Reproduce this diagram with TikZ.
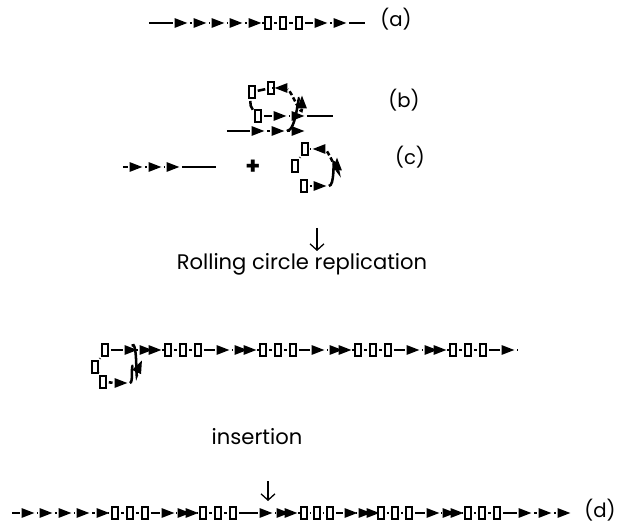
\documentclass[tikz,border=0pt]{standalone}
\usepackage{fontspec}
\setmainfont{Poppins}
\usetikzlibrary{arrows.meta, positioning, shapes.geometric}

\tikzset{
  rep/.style={isosceles triangle, isosceles triangle stretches, fill=black, inner sep=0pt,
    minimum width=7pt, minimum height=9pt, rotate=#1},
  rep/.default=0,
  gene/.style={draw, fill=white, line width=1.2pt, inner sep=0pt, minimum width=4.4pt, minimum height=9pt},
  link/.style={line width=1.8pt, shorten <=1.3pt, shorten >=1.3pt},
  loopseg/.style={line width=1.8pt, dash pattern=on 3.2pt off 1.8pt},
  down/.style={line width=0.9pt, -{Straight Barb[length=4.5pt, width=10pt]}},
  lab/.style={font=\fontsize{14}{16}\selectfont},
  txt/.style={font=\fontsize{15}{18}\selectfont},
}

% một đoạn DNA thẳng: #1 tên, #2 tung độ, #3 danh sách hoành độ/kiểu
\newcommand{\daysoi}[3]{%
  \foreach \x/\k [count=\i] in {#3}{
    \node[\k] (#1\i) at (\x,#2) {};
    \ifnum\i>1 \pgfmathtruncatemacro{\j}{\i-1}\draw[link] (#1\j) -- (#1\i);\fi
  }}

\begin{document}
\begin{tikzpicture}[x=0.025cm, y=-0.025cm]
  \useasboundingbox (0,0) rectangle (620,525);

  % (a) đoạn ban đầu
  \daysoi{a}{23}{147/coordinate, 178/rep, 197/rep, 215/rep, 233/rep, 252/rep, 268/gene, 283/gene, 299/gene, 318/rep, 337/rep, 367/coordinate}
  \node[lab] (la) at (396,19) {(a)};

  % (b) tách vòng
  \daysoi{bd}{131}{225/coordinate, 255/rep, 275/rep, 295/rep}
  \daysoi{bt}{116}{258/gene, 277/rep, 295/rep, 335/coordinate}
  \node[gene] (bv1) at (252,92) {};
  \node[gene] (bv2) at (271,88) {};
  \node[rep=180] (bv3) at (284,88) {};
  \node[rep=90] (bv4) at (302,105) {};
  \draw[link] (bd3) to[out=0, in=90] (bv4);
  \draw[loopseg] (bv4) to[out=-110, in=-20] (bv3);
  \draw[link] (bv3) -- (bv2);
  \draw[link] (bv2) -- (bv1);
  \draw[link] (bv1) to[bend right=25] (bt1);
  \node[lab] (lb) at (404,100) {(b)};

  % (c) đoạn còn lại + vòng tròn
  \daysoi{c}{167}{121/coordinate, 133/rep, 152/rep, 170/rep, 218/coordinate}
  \node[font=\bfseries\fontsize{17}{18}\selectfont] (cong) at (253,167) {+};
  \node[gene] (cv1) at (305,149) {};
  \node[rep=180] (cv2) at (322,149) {};
  \node[rep=90] (cv3) at (337,167) {};
  \node[rep] (cv4) at (317,186) {};
  \node[gene] (cv5) at (304,186) {};
  \node[gene] (cv6) at (295,166) {};
  \draw[link] (cv1) -- (cv2);
  \draw[loopseg] (cv3) to[out=-90, in=-10] (cv2);
  \draw[link] (cv4) to[out=0, in=90] (cv3);
  \draw[link] (cv5) -- (cv4);
  \draw[link] (cv6) -- (cv1);
  \node[lab] (lc) at (410,157) {(c)};

  % mũi tên + chú thích
  \coordinate (m1) at (317,228);
  \coordinate (m2) at (317,251);
  \draw[down] (m1) -- (m2);
  \node[txt] (rcr) at (302,264) {Rolling circle replication};

  % chuỗi nhân bản vòng lăn
  \daysoi{r}{350}{105/gene, 128/rep, 143/rep, 152/rep, 168/gene, 183/gene, 198/gene, 220/rep, 238/rep, 247/rep, 263/gene, 278/gene, 293/gene, 315/rep, 333/rep, 342/rep, 358/gene, 373/gene, 388/gene, 410/rep, 428/rep, 437/rep, 453/gene, 468/gene, 483/gene, 505/rep, 515/coordinate}
  \node[gene] (rv1) at (95,367) {};
  \node[gene] (rv2) at (103,382) {};
  \node[rep] (rv3) at (118,383) {};
  \node[rep=65] (rv4) at (138,369) {};
  \draw[link] (r1) -- (rv1);
  \draw[link] (rv1) -- (rv2);
  \draw[link] (rv2) -- (rv3);
  \draw[link] (rv3) to[out=0, in=115] (rv4);
  \draw[link] (rv4) to[out=-120, in=50] (r2);

  % (d) sau khi chèn
  \node[txt] (ins) at (257,437) {insertion};
  \coordinate (n1) at (268,481);
  \coordinate (n2) at (268,501);
  \draw[down] (n1) -- (n2);
  \daysoi{d}{513}{10/coordinate, 25/rep, 43/rep, 62/rep, 80/rep, 100/rep, 115/gene, 130/gene, 145/gene, 165/rep, 181/rep, 189/rep, 203/gene, 218/gene, 233/gene, 263/rep, 280/rep, 288/rep, 304/gene, 317/gene, 330/gene, 348/rep, 362/rep, 370/rep, 381/gene, 395/gene, 409/gene, 430/rep, 446/rep, 454/rep, 468/gene, 482/gene, 497/gene, 522/rep, 542/rep, 561/rep}
  \node[lab] (ld) at (600,510) {(d)};
\end{tikzpicture}
\end{document}
